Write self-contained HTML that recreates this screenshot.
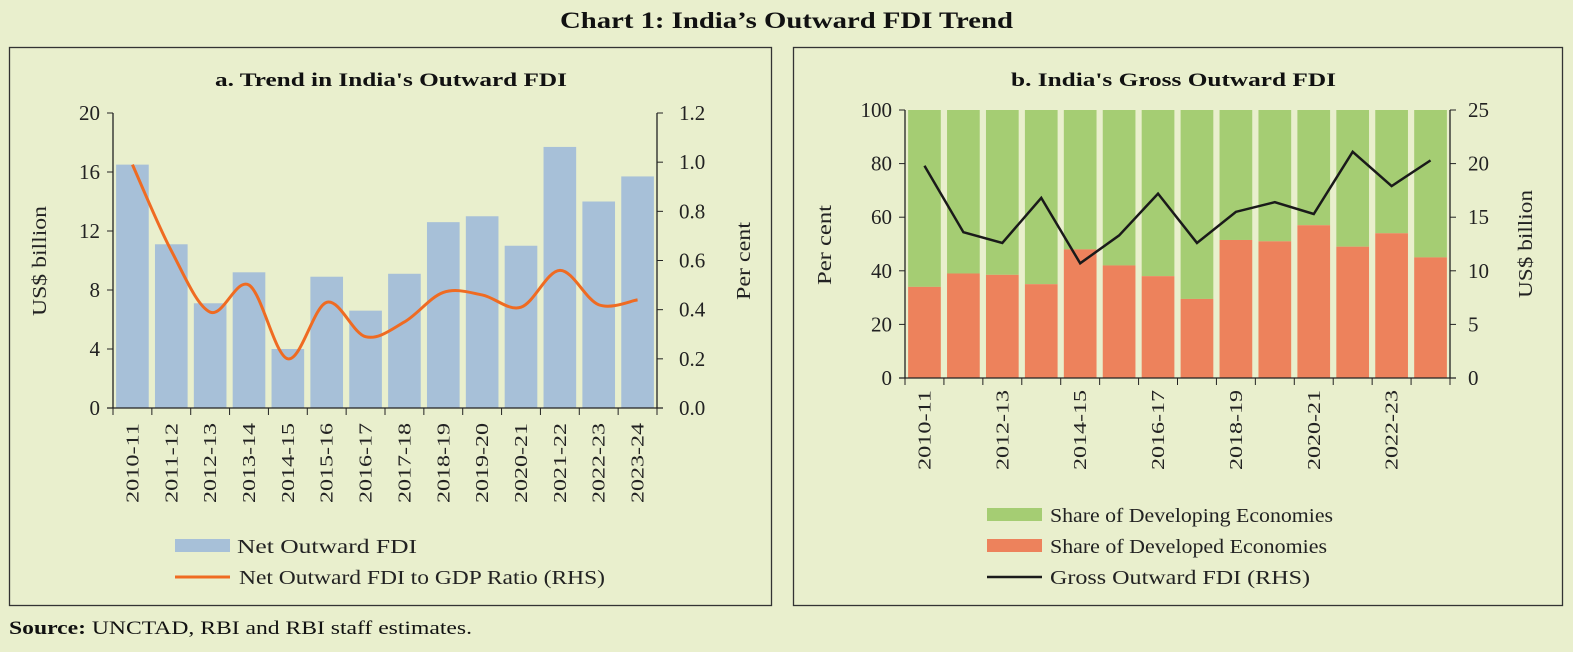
<!DOCTYPE html>
<html><head><meta charset="utf-8">
<style>
body{margin:0;background:#e9efcd;}
svg{display:block;font-family:"Liberation Serif",serif;}
</style></head>
<body>
<svg id="svg" width="1573" height="652" viewBox="0 0 1573 652" xmlns="http://www.w3.org/2000/svg">
<rect x="0" y="0" width="1573" height="652" fill="#e9efcd"/>
<text x="560" y="28" textLength="453" lengthAdjust="spacingAndGlyphs" font-weight="bold" font-size="23" fill="#111">Chart 1: India’s Outward FDI Trend</text>
<rect x="9.5" y="47.5" width="762" height="558" fill="none" stroke="#333" stroke-width="1.3"/>
<rect x="793.5" y="47.5" width="769" height="558" fill="none" stroke="#333" stroke-width="1.3"/>
<text x="215" y="86" textLength="352" lengthAdjust="spacingAndGlyphs" font-weight="bold" font-size="19" fill="#111">a. Trend in India's Outward FDI</text>
<text x="1011" y="86" textLength="325" lengthAdjust="spacingAndGlyphs" font-weight="bold" font-size="19" fill="#111">b. India's Gross Outward FDI</text>
<g id="ga"></g><g id="gb"></g>
<text x="9" y="634" textLength="463" lengthAdjust="spacingAndGlyphs" font-size="19" fill="#111"><tspan font-weight="bold">Source:</tspan> UNCTAD, RBI and RBI staff estimates.</text>
</svg>
<script>
const cats=["2010-11","2011-12","2012-13","2013-14","2014-15","2015-16","2016-17","2017-18","2018-19","2019-20","2020-21","2021-22","2022-23","2023-24"];
const netFdi=[16.5,11.1,7.1,9.2,4.0,8.9,6.6,9.1,12.6,13.0,11.0,17.7,14.0,15.7];
const gdpRatio=[0.99,0.64,0.39,0.50,0.20,0.43,0.29,0.35,0.47,0.46,0.41,0.56,0.42,0.44];
const leftTicksA=[0,4,8,12,16,20];
const rightTicksA=[0,0.2,0.4,0.6,0.8,1.0,1.2];
const developed=[34,39,38.5,35,48,42,38,29.5,51.5,51,57,49,54,45];
const grossFdi=[19.8,13.6,12.6,16.8,10.7,13.3,17.2,12.6,15.5,16.4,15.3,21.1,17.9,20.3];
const leftTicksB=[0,20,40,60,80,100];
const rightTicksB=[0,5,10,15,20,25];

const NS="http://www.w3.org/2000/svg";
function mk(p,tag,at,txt){const e=document.createElementNS(NS,tag);for(const k in at)e.setAttribute(k,at[k]);if(txt!==undefined)e.textContent=txt;p.appendChild(e);return e;}
function smooth(pts){let d=`M${pts[0][0]},${pts[0][1]}`;for(let i=0;i<pts.length-1;i++){const p0=pts[i-1]||pts[i],p1=pts[i],p2=pts[i+1],p3=pts[i+2]||p2;const c1=[p1[0]+(p2[0]-p0[0])/6,p1[1]+(p2[1]-p0[1])/6],c2=[p2[0]-(p3[0]-p1[0])/6,p2[1]-(p3[1]-p1[1])/6];d+=` C${c1[0]},${c1[1]} ${c2[0]},${c2[1]} ${p2[0]},${p2[1]}`;}return d;}
const FS=21;

// Panel A
(function(){
const g=document.getElementById('ga');
const x0=113,x1=657,yT=113,yB=408,n=cats.length,bw=(x1-x0)/n;
const y=v=>yB-(v/20)*(yB-yT), yr=v=>yB-(v/1.2)*(yB-yT), xc=i=>x0+bw*(i+0.5);
netFdi.forEach((v,i)=>{const r=mk(g,'rect',{x:xc(i)-bw*0.42,y:y(v),width:bw*0.84,height:yB-y(v),fill:'#a7c0d8'});

});
mk(g,'line',{x1:x0,y1:yT,x2:x0,y2:yB,stroke:'#222','stroke-width':1.3});
mk(g,'line',{x1:x1,y1:yT,x2:x1,y2:yB,stroke:'#222','stroke-width':1.3});
mk(g,'line',{x1:x0-6,y1:yB,x2:x1+6,y2:yB,stroke:'#222','stroke-width':1.3});
leftTicksA.forEach(v=>{mk(g,'line',{x1:x0-6,y1:y(v),x2:x0,y2:y(v),stroke:'#222'});
const t=mk(g,'text',{x:x0-13,y:y(v)+7,'text-anchor':'end','font-size':FS,fill:'#222'},v);

});
rightTicksA.forEach(v=>{mk(g,'line',{x1:x1,y1:yr(v),x2:x1+6,y2:yr(v),stroke:'#222'});
const t=mk(g,'text',{x:x1+22,y:yr(v)+7,'font-size':FS,fill:'#222'},v.toFixed(1));

});
for(let i=0;i<=n;i++)mk(g,'line',{x1:x0+bw*i,y1:yB,x2:x0+bw*i,y2:yB+7,stroke:'#222'});
cats.forEach((c,i)=>{const t=mk(g,'text',{transform:`translate(${xc(i)+6},503) rotate(-90)`,textLength:80,lengthAdjust:'spacingAndGlyphs','font-size':18,fill:'#222'},c);

});
const p=mk(g,'path',{d:smooth(gdpRatio.map((v,i)=>[xc(i),yr(v)])),fill:'none',stroke:'#ef6b22','stroke-width':3});


let t=mk(g,'text',{transform:'translate(46,316) rotate(-90)',textLength:110,lengthAdjust:'spacingAndGlyphs','font-size':20,fill:'#222'},'US$ billion');

t=mk(g,'text',{transform:'translate(750,300) rotate(-90)',textLength:78,lengthAdjust:'spacingAndGlyphs','font-size':20,fill:'#222'},'Per cent');

let r=mk(g,'rect',{x:175,y:539,width:55,height:13,fill:'#a7c0d8'});

t=mk(g,'text',{x:237,y:553,textLength:180,lengthAdjust:'spacingAndGlyphs','font-size':20,fill:'#222'},'Net Outward FDI');

r=mk(g,'line',{x1:175,y1:577,x2:230,y2:577,stroke:'#ef6b22','stroke-width':3});

t=mk(g,'text',{x:239,y:584,textLength:366,lengthAdjust:'spacingAndGlyphs','font-size':20,fill:'#222'},'Net Outward FDI to GDP Ratio (RHS)');

})();

// Panel B
(function(){
const g=document.getElementById('gb');
const x0=905,x1=1450,yT=110,yB=378,n=cats.length,bw=(x1-x0)/n;
const y=v=>yB-(v/100)*(yB-yT), yr=v=>yB-(v/25)*(yB-yT), xc=i=>x0+bw*(i+0.5);
developed.forEach((v,i)=>{
let r=mk(g,'rect',{x:xc(i)-bw*0.42,y:yT,width:bw*0.84,height:y(v)-yT,fill:'#a5cd73'});


r=mk(g,'rect',{x:xc(i)-bw*0.42,y:y(v),width:bw*0.84,height:yB-y(v),fill:'#ed825c'});

});
mk(g,'line',{x1:x0,y1:yT,x2:x0,y2:yB,stroke:'#222','stroke-width':1.3});
mk(g,'line',{x1:x1,y1:yT,x2:x1,y2:yB,stroke:'#222','stroke-width':1.3});
mk(g,'line',{x1:x0-6,y1:yB,x2:x1+6,y2:yB,stroke:'#222','stroke-width':1.3});
leftTicksB.forEach(v=>{mk(g,'line',{x1:x0-6,y1:y(v),x2:x0,y2:y(v),stroke:'#222'});
const t=mk(g,'text',{x:x0-13,y:y(v)+7,'text-anchor':'end','font-size':FS,fill:'#222'},v);

});
rightTicksB.forEach(v=>{mk(g,'line',{x1:x1,y1:yr(v),x2:x1+6,y2:yr(v),stroke:'#222'});
const t=mk(g,'text',{x:x1+18,y:yr(v)+7,'font-size':FS,fill:'#222'},v);

});
for(let i=0;i<=n;i++)mk(g,'line',{x1:x0+bw*i,y1:yB,x2:x0+bw*i,y2:yB+7,stroke:'#222'});
cats.forEach((c,i)=>{if(i%2)return;const t=mk(g,'text',{transform:`translate(${xc(i)+6},470) rotate(-90)`,textLength:80,lengthAdjust:'spacingAndGlyphs','font-size':18,fill:'#222'},c);

});
const p=mk(g,'polyline',{points:grossFdi.map((v,i)=>xc(i)+','+yr(v)).join(' '),fill:'none',stroke:'#1a1a1a','stroke-width':2.5});


let t=mk(g,'text',{transform:'translate(831,285) rotate(-90)',textLength:80,lengthAdjust:'spacingAndGlyphs','font-size':20,fill:'#222'},'Per cent');

t=mk(g,'text',{transform:'translate(1532,298) rotate(-90)',textLength:108,lengthAdjust:'spacingAndGlyphs','font-size':20,fill:'#222'},'US$ billion');

let r=mk(g,'rect',{x:987,y:508,width:55,height:13,fill:'#a5cd73'});

t=mk(g,'text',{x:1050,y:522,textLength:283,lengthAdjust:'spacingAndGlyphs','font-size':20,fill:'#222'},'Share of Developing Economies');

r=mk(g,'rect',{x:987,y:539,width:55,height:13,fill:'#ed825c'});

t=mk(g,'text',{x:1050,y:553,textLength:277,lengthAdjust:'spacingAndGlyphs','font-size':20,fill:'#222'},'Share of Developed Economies');

r=mk(g,'line',{x1:987,y1:577,x2:1042,y2:577,stroke:'#1a1a1a','stroke-width':2.5});

t=mk(g,'text',{x:1050,y:584,textLength:260,lengthAdjust:'spacingAndGlyphs','font-size':20,fill:'#222'},'Gross Outward FDI (RHS)');

})();
</script>
</body></html>
